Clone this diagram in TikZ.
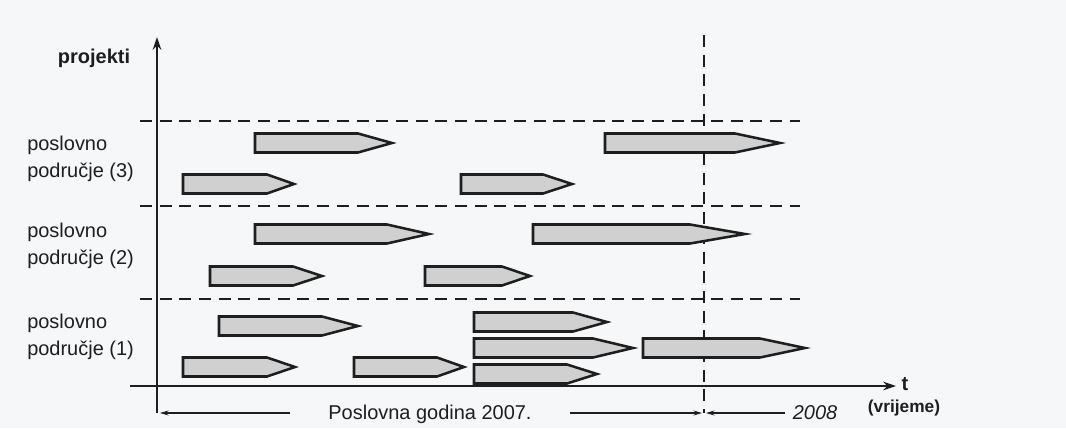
\documentclass[tikz,border=0pt]{standalone}
\usepackage{fontspec}
\setmainfont{Liberation Sans}
\usepackage{xcolor}
\usepackage{tikz}
\usetikzlibrary{arrows.meta,calc}

\definecolor{paper}{RGB}{245,247,249}
\definecolor{barfill}{RGB}{208,208,208}
\definecolor{ink}{RGB}{30,30,30}

% one project bar: start, end of body, tip, y centre
\newcommand{\projbar}[4]{%
  \draw[projbar] (#1,#4-9.5) -- (#2,#4-9.5) -- (#3,#4) -- (#2,#4+9.5) -- (#1,#4+9.5) -- cycle;}

\begin{document}
\begin{tikzpicture}[
  x=0.025cm, y=-0.025cm,
  every node/.style={font=\fontsize{14.2}{19.2}\selectfont, text=ink, inner sep=0pt},
  axis/.style={line width=1.5pt, draw=ink, -{Stealth[length=9pt,width=6pt]}},
  sep/.style={line width=1.8pt, draw=ink, dash pattern=on 8.5pt off 5.5pt},
  projbar/.style={line width=1.8pt, draw=ink, fill=barfill},
  span/.style={line width=0.9pt, draw=ink, -{Stealth[length=6pt,width=3.5pt]}},
  area/.style={align=left, anchor=base west}
]
\fill[paper] (0,0) rectangle (1066,428);

% axes
\coordinate (ybot)  at (157,413);
\coordinate (ytop)  at (157,37);
\coordinate (xbeg)  at (130,386);
\coordinate (xend)  at (896,386);
\draw[axis] (ybot) -- (ytop);
\draw[axis] (xbeg) -- (xend);

\node[font=\fontsize{14.2}{17}\selectfont\bfseries, anchor=base] (proj) at (94,63) {projekti};
\node[font=\fontsize{14.2}{17}\selectfont\bfseries, anchor=base] (t)    at (905,390) {t};
\node[font=\fontsize{12.3}{15}\selectfont\bfseries, anchor=base] (vrij) at (904,412) {(vrijeme)};

% area separators
\coordinate (s3a) at (140,121); \coordinate (s3b) at (800,121);
\coordinate (s2a) at (140,206); \coordinate (s2b) at (800,206);
\coordinate (s1a) at (140,299); \coordinate (s1b) at (800,299);
\draw[sep] (s3a) -- (s3b);
\draw[sep] (s2a) -- (s2b);
\draw[sep] (s1a) -- (s1b);

% year boundary
\coordinate (ytop08) at (704,35);
\coordinate (ybot08) at (704,413);
\draw[sep] (ytop08) -- (ybot08);

\node[area] (pod3) at (27,177) {poslovno\\područje (3)};
\node[area] (pod2) at (27,264) {poslovno\\područje (2)};
\node[area] (pod1) at (27,355) {poslovno\\područje (1)};

% projects
\projbar{255}{358}{392}{143}
\projbar{605}{735}{780}{143}
\projbar{183}{267}{294}{184}
\projbar{461}{543}{572}{184}

\projbar{255}{387}{429}{234}
\projbar{533}{690}{745}{234}
\projbar{210}{293}{322}{276}
\projbar{425}{502}{530}{276}

\projbar{219}{322}{358}{326}
\projbar{474}{573}{607}{322}
\projbar{474}{593}{633}{348}
\projbar{643}{760}{805}{348}
\projbar{474}{567}{597}{374}
\projbar{354}{437}{464}{367}
\projbar{183}{267}{295}{367}

% business years
\node[anchor=base] (god07) at (430,419) {Poslovna godina 2007.};
\node[anchor=base, font=\fontsize{14.2}{17}\selectfont\itshape] (god08) at (815,419) {2008};
\coordinate (l07a) at (290,413); \coordinate (l07b) at (160,413);
\coordinate (r07a) at (570,413); \coordinate (r07b) at (702,413);
\coordinate (l08a) at (785,413); \coordinate (l08b) at (706,413);
\draw[span] (l07a) -- (l07b);
\draw[span] (r07a) -- (r07b);
\draw[span] (l08a) -- (l08b);
\end{tikzpicture}
\end{document}
